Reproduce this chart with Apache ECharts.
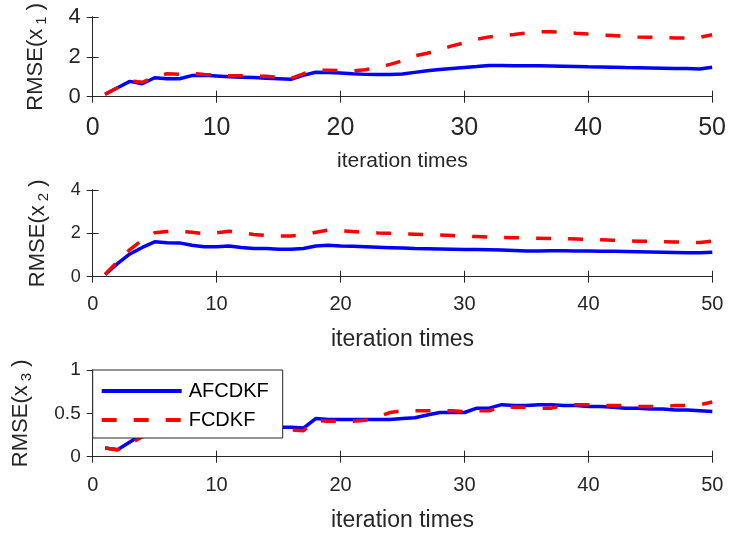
<!DOCTYPE html>
<html>
<head>
<meta charset="utf-8">
<script src="https://cdn.jsdelivr.net/npm/echarts@6/dist/echarts.min.js"></script>
<style>html,body{margin:0;padding:0;background:#fff}#c{width:729px;height:533px}</style>
</head>
<body>
<div id="c"></div>
<script>
const iterations = [1,2,3,4,5,6,7,8,9,10,11,12,13,14,15,16,17,18,19,20,21,22,23,24,25,26,27,28,29,30,31,32,33,34,35,36,37,38,39,40,41,42,43,44,45,46,47,48,49,50];
const seriesNames = ['AFCDKF', 'FCDKF'];
const xTicks = [0, 10, 20, 30, 40, 50];

// RMSE(x1)
const afcdkfX1 = [0.12,0.45,0.77,0.65,0.95,0.9,0.9,1.06,1.07,1.04,1.0,0.98,0.96,0.93,0.9,0.87,1.07,1.23,1.21,1.19,1.15,1.12,1.11,1.11,1.14,1.22,1.3,1.37,1.42,1.47,1.51,1.56,1.56,1.55,1.55,1.55,1.54,1.53,1.52,1.5,1.49,1.48,1.46,1.45,1.44,1.43,1.42,1.41,1.39,1.48];
const fcdkfX1 = [0.12,0.45,0.8,0.72,1.0,1.15,1.13,1.17,1.12,1.08,1.05,1.05,1.04,1.02,0.98,0.92,1.15,1.33,1.33,1.31,1.3,1.35,1.48,1.62,1.8,2.05,2.18,2.35,2.55,2.7,2.88,3.0,3.06,3.12,3.2,3.25,3.26,3.24,3.18,3.14,3.1,3.07,3.03,3.0,2.98,2.96,2.95,2.95,2.98,3.11];

// RMSE(x2)
const afcdkfX2 = [0.1,0.6,1.05,1.35,1.61,1.57,1.56,1.45,1.38,1.38,1.42,1.35,1.3,1.3,1.27,1.27,1.3,1.42,1.45,1.42,1.4,1.38,1.36,1.34,1.32,1.3,1.29,1.28,1.27,1.26,1.25,1.24,1.23,1.21,1.19,1.19,1.2,1.2,1.19,1.18,1.17,1.17,1.16,1.15,1.14,1.13,1.12,1.11,1.1,1.13];
const fcdkfX2 = [0.1,0.7,1.25,1.7,2.03,2.08,2.1,2.05,1.98,2.02,2.1,2.02,1.95,1.9,1.88,1.88,1.92,2.05,2.15,2.12,2.08,2.05,2.02,2.0,1.98,1.96,1.94,1.92,1.9,1.87,1.85,1.83,1.81,1.8,1.78,1.77,1.76,1.75,1.74,1.72,1.7,1.68,1.66,1.64,1.63,1.61,1.6,1.59,1.58,1.64];

// RMSE(x3)
const afcdkfX3 = [0.1,0.08,0.17,0.26,0.3,0.32,0.33,0.34,0.35,0.35,0.36,0.36,0.36,0.35,0.34,0.34,0.33,0.44,0.43,0.43,0.43,0.43,0.43,0.43,0.44,0.45,0.48,0.51,0.51,0.51,0.56,0.56,0.6,0.59,0.59,0.6,0.6,0.59,0.59,0.58,0.58,0.57,0.56,0.56,0.55,0.55,0.54,0.54,0.53,0.52];
const fcdkfX3 = [0.1,0.08,0.15,0.23,0.28,0.3,0.31,0.32,0.33,0.33,0.34,0.34,0.33,0.33,0.32,0.31,0.3,0.42,0.41,0.41,0.41,0.42,0.46,0.51,0.53,0.53,0.53,0.53,0.53,0.52,0.53,0.53,0.58,0.57,0.57,0.56,0.56,0.59,0.6,0.6,0.59,0.59,0.59,0.58,0.58,0.58,0.59,0.59,0.6,0.63];

const yMax = [4, 4, 1];
const yInterval = [2, 2, 0.5];
const yNames = ['1', '2', '3'];
const xLabel = 'iteration times';

const FONT = '"Liberation Sans", Arial, Helvetica, sans-serif';
const AX = '#262626';
const panels = [
  {top: 10, xTick: 25, yTick: 22, xName: 21, xNameGap: 54, xMargin: 19, yNameGap: 43, data: [afcdkfX1, fcdkfX1]},
  {top: 190, xTick: 20, yTick: 18, xName: 23, xNameGap: 51, xMargin: 18, yNameGap: 41, data: [afcdkfX2, fcdkfX2]},
  {top: 370, xTick: 20, yTick: 19, xName: 23, xNameGap: 52, xMargin: 19, yNameGap: 58, data: [afcdkfX3, fcdkfX3]}
];
const H = 86.7;

const grid = [], xAxis = [], yAxis = [], series = [];
panels.forEach((p, i) => {
  grid.push({left: 92.7, right: 16.7, top: p.top, height: H, containLabel: false});
  const lineAx = {show: true, lineStyle: {color: AX, width: 1}};
  const tickAx = {show: true, inside: true, length: 6, lineStyle: {color: AX, width: 1}};
  xAxis.push({
    type: 'value', gridIndex: i, min: 0, max: 50, interval: 10, position: 'bottom',
    axisLine: lineAx, axisTick: tickAx, splitLine: {show: false},
    axisLabel: {fontSize: p.xTick, color: AX, fontFamily: FONT, margin: p.xMargin},
    name: xLabel, nameLocation: 'middle', nameGap: p.xNameGap,
    nameTextStyle: {fontSize: p.xName, color: AX, fontFamily: FONT}
  });
  xAxis.push({
    type: 'value', gridIndex: i, min: 0, max: 50, interval: 10, position: 'top',
    axisLine: lineAx, axisTick: tickAx, splitLine: {show: false}, axisLabel: {show: false}
  });
  yAxis.push({
    type: 'value', gridIndex: i, min: 0, max: yMax[i], interval: yInterval[i], position: 'left',
    axisLine: lineAx, axisTick: tickAx, splitLine: {show: false},
    axisLabel: {fontSize: p.yTick, color: AX, fontFamily: FONT, margin: 12},
    name: '{n|RMSE(x}{s|' + yNames[i] + '}{n| )}', nameLocation: 'middle', nameRotate: 90, nameGap: p.yNameGap,
    nameTextStyle: {
      color: AX, fontFamily: FONT, fontSize: 22,
      rich: {
        n: {fontSize: 22, lineHeight: 28, color: AX, fontFamily: FONT},
        s: {fontSize: 15, lineHeight: 15, verticalAlign: 'bottom', padding: [0, 0, 0, 4], color: AX, fontFamily: FONT}
      }
    }
  });
  yAxis.push({
    type: 'value', gridIndex: i, min: 0, max: yMax[i], interval: yInterval[i], position: 'right',
    axisLine: lineAx, axisTick: tickAx, splitLine: {show: false}, axisLabel: {show: false}
  });
  p.data.forEach((arr, k) => {
    series.push({
      name: seriesNames[k], type: 'line', xAxisIndex: i * 2, yAxisIndex: i * 2,
      data: iterations.map((x, j) => [x, arr[j]]),
      symbol: 'none', showSymbol: false, z: k === 0 ? 2 : 3,
      lineStyle: k === 0 ? {color: '#0000FF', width: 3.5, type: 'solid'} : {color: '#FF0000', width: 3.5, type: [15, 17]},
      itemStyle: {color: k === 0 ? '#0000FF' : '#FF0000'},
      emphasis: {disabled: true}
    });
  });
});

const chart = echarts.init(document.getElementById('c'), null, {renderer: 'canvas'});
chart.setOption({
  animation: false,
  backgroundColor: '#fff',
  grid, xAxis, yAxis, series,
  legend: {
    data: seriesNames, orient: 'vertical', left: 92.7, top: 370,
    backgroundColor: '#fff', borderColor: AX, borderWidth: 1, borderRadius: 0,
    padding: [11, 14, 8, 7], itemWidth: 80, itemHeight: 14, itemGap: 9,
    itemStyle: {opacity: 0, borderWidth: 0},
    lineStyle: {width: 4},
    textStyle: {fontSize: 20, color: '#000', fontFamily: FONT, padding: [0, 0, 0, 2]},
    selectedMode: false, z: 10
  }
});
</script>
</body>
</html>
